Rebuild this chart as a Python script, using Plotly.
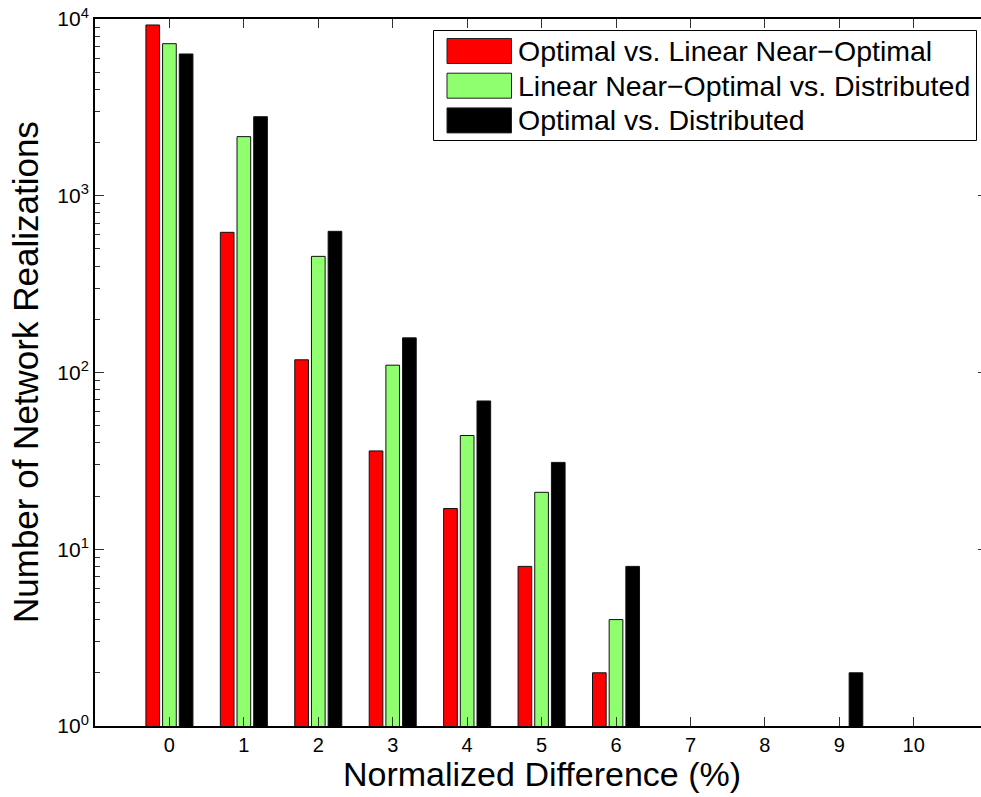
import plotly.graph_objects as go

# Histogram of normalized differences between solution methods
categories = [0, 1, 2, 3, 4, 5, 6, 7, 8, 9, 10]
opt_vs_linear = [9250, 621, 118, 36, 17, 8, 2, 0, 0, 0, 0]
linear_vs_dist = [7250, 2160, 454, 110, 44, 21, 4, 0, 0, 0, 0]
opt_vs_dist = [6340, 2800, 629, 157, 69, 31, 8, 0, 0, 2, 0]

series_names = [
    "Optimal vs. Linear Near\u2212Optimal",
    "Linear Near\u2212Optimal vs. Distributed",
    "Optimal vs. Distributed",
]
series_colors = ["#FF0000", "#8FFF6F", "#000000"]
series_values = [opt_vs_linear, linear_vs_dist, opt_vs_dist]

y_tickvals = [1, 10, 100, 1000, 10000]
y_ticktext = ["10<sup>0</sup>", "10<sup>1</sup>", "10<sup>2</sup>",
              "10<sup>3</sup>", "10<sup>4</sup>"]

W, H = 981, 797
L, R, T, B = 95, 0, 19, 71
PW, PH = W - L - R, H - T - B
FONT = "Liberation Sans, Arial, Helvetica, sans-serif"


def px_x(px):
    return (px - L) / PW


def px_y(py):
    return (H - B - py) / PH


fig = go.Figure()
for name, color, vals in zip(series_names, series_colors, series_values):
    # zero counts cannot be shown on a log axis
    yv = [v if v > 0 else None for v in vals]
    fig.add_trace(go.Bar(
        x=categories, y=yv, name=name,
        marker=dict(color=color, line=dict(color="#111111", width=1)),
        showlegend=False,
    ))

# invisible trace to carry the right-hand tick marks
fig.add_trace(go.Scatter(x=[0], y=[1], yaxis="y2", mode="markers",
                         marker=dict(opacity=0), showlegend=False,
                         hoverinfo="skip"))

x_max = -1 + PW / 74.43

fig.update_layout(
    width=W, height=H,
    margin=dict(l=L, r=R, t=T, b=B, pad=0),
    paper_bgcolor="white", plot_bgcolor="white",
    barmode="group", bargap=0.328, bargroupgap=0.18,
    font=dict(family=FONT, color="black"),
    showlegend=False,
    xaxis=dict(
        range=[-1, x_max], tickmode="array", tickvals=categories,
        ticks="inside", ticklen=9, tickwidth=1, tickcolor="#333333",
        showline=True, linecolor="black", linewidth=2, mirror="ticks",
        showgrid=False, zeroline=False,
        tickfont=dict(size=20, family=FONT, color="black"),
    ),
    yaxis=dict(
        type="log", range=[0, 4],
        tickmode="array", tickvals=y_tickvals, ticktext=y_ticktext,
        ticks="inside", ticklen=9, tickwidth=1, tickcolor="#333333",
        minor=dict(ticks="inside", ticklen=5, tickwidth=1,
                   tickcolor="#333333", dtick="D1", showgrid=False),
        showline=True, linecolor="black", linewidth=2,
        showgrid=False, zeroline=False,
        tickfont=dict(size=21, family=FONT, color="black"),
    ),
    yaxis2=dict(
        type="log", range=[0, 4], overlaying="y", side="right",
        tickmode="array", tickvals=y_tickvals,
        ticks="inside", ticklen=3, tickwidth=1, tickcolor="#333333",
        showticklabels=False, showline=False, showgrid=False,
        zeroline=False,
    ),
)

annotations = [
    dict(text="Normalized Difference (%)", xref="x", yref="paper",
         x=5, y=px_y(774), xanchor="center", yanchor="middle",
         showarrow=False, borderpad=0,
         font=dict(size=34, family=FONT, color="black")),
    dict(text="Number of Network Realizations", xref="paper", yref="paper",
         x=px_x(25), y=px_y(372), xanchor="center", yanchor="middle",
         textangle=-90, showarrow=False,
         font=dict(size=35, family=FONT, color="black")),
]

shapes = []
# legend frame
shapes.append(dict(type="rect", xref="paper", yref="paper",
                   x0=px_x(433.5), x1=px_x(976.5),
                   y0=px_y(140.5), y1=px_y(30.5),
                   line=dict(color="black", width=1), fillcolor="white",
                   layer="above"))
row_centers = [51, 85.7, 120.4]
for name, color, cy in zip(series_names, series_colors, row_centers):
    shapes.append(dict(type="rect", xref="paper", yref="paper",
                       x0=px_x(447), x1=px_x(511.5),
                       y0=px_y(cy + 12.5), y1=px_y(cy - 12.5),
                       line=dict(color="#222222", width=1), fillcolor=color,
                       layer="above"))
    annotations.append(dict(text=name, xref="paper", yref="paper",
                            x=px_x(515.5), y=px_y(cy), xanchor="left",
                            yanchor="middle", showarrow=False,
                            font=dict(size=28.5, family=FONT, color="black")))

fig.update_layout(annotations=annotations, shapes=shapes)

fig.write_html("out.html")
